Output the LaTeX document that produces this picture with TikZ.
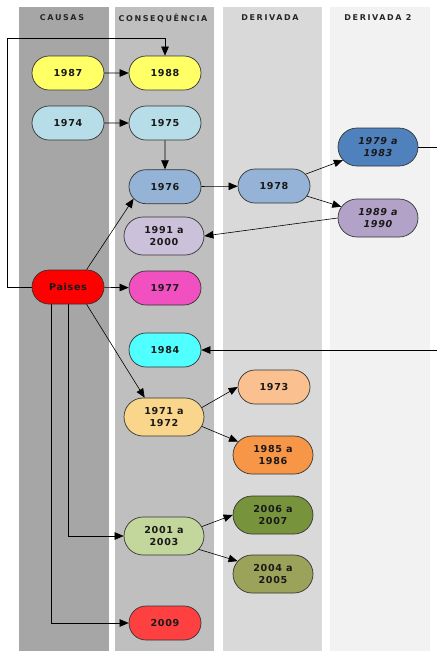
\documentclass[tikz,border=0pt]{standalone}
\usepackage{fontspec}
\setmainfont{DejaVu Sans}
\newfontfamily\cabfont[LetterSpace=20]{DejaVu Sans}
\newfontfamily\anofont[LetterSpace=7]{DejaVu Sans}
\usetikzlibrary{positioning, arrows.meta, shapes.misc}

\definecolor{causas}{HTML}{A6A6A6}
\definecolor{consequencia}{HTML}{BFBFBF}
\definecolor{derivada}{HTML}{D9D9D9}
\definecolor{derivadadois}{HTML}{F2F2F2}
\definecolor{amarelo}{HTML}{FFFF66}
\definecolor{azulclaro}{HTML}{B7DEE8}
\definecolor{azulmedio}{HTML}{95B3D7}
\definecolor{azulforte}{HTML}{4F81BD}
\definecolor{lilas}{HTML}{B3A2C7}
\definecolor{lilasclaro}{HTML}{CCC1DA}
\definecolor{vermelho}{HTML}{FF0000}
\definecolor{rosa}{HTML}{F050C0}
\definecolor{ciano}{HTML}{50FFFF}
\definecolor{laranjaclaro}{HTML}{FAD68C}
\definecolor{pessego}{HTML}{FAC090}
\definecolor{laranja}{HTML}{F79646}
\definecolor{verdeescuro}{HTML}{77933C}
\definecolor{verdeclaro}{HTML}{C3D69B}
\definecolor{oliva}{HTML}{9BA35A}
\definecolor{vermelhoclaro}{HTML}{FF4040}

\newcommand\fonteano{\anofont\bfseries\fontsize{9.6}{12}\selectfont}

\begin{document}
\begin{tikzpicture}[
  x=1pt, y=-1pt,
  coluna/.style={fill=#1},
  cabec/.style={font=\cabfont\bfseries\fontsize{8}{9}\selectfont, text=black!85},
  ano/.style={rounded rectangle, draw=black!80, line width=0.7pt, fill=#1,
              minimum width=76pt, minimum height=34pt, inner sep=2pt,
              align=center, text=black!90, font=\fonteano},
  periodo/.style={ano=#1, minimum width=84pt, minimum height=38pt},
  italico/.style={font=\fonteano\itshape},
  arr/.style={-{Triangle[length=9pt,width=7.5pt]}, line width=0.6pt, color=black},
  lig/.style={line width=0.6pt, color=black},
]
\useasboundingbox (0,0) rectangle (437,651);

% --- Colunas ---
\fill[coluna=causas] (19,7) rectangle (109,651);
\fill[coluna=consequencia] (115,7) rectangle (214,651);
\fill[coluna=derivada] (223,7) rectangle (322,651);
\fill[coluna=derivadadois] (330,7) rectangle (430,651);

\node[cabec] (hcausas) at (62,18) {CAUSAS};
\node[cabec] (hconseq) at (163,18) {CONSEQUÊNCIA};
\node[cabec] (hderiv) at (270,18) {DERIVADA};
\node[cabec] (hderiv2) at (378,18) {DERIVADA 2};

% --- Causas ---
\node[ano=amarelo] (n1987) at (68,73) {1987};
\node[ano=azulclaro] (n1974) at (68,123) {1974};
\node[ano=vermelho] (paises) at (68,287) {Paises};

% --- Consequencia ---
\node[ano=amarelo] (n1988) at (165,73) {1988};
\node[ano=azulclaro] (n1975) at (165,123) {1975};
\node[ano=azulmedio, below=29pt of n1975] (n1976) {1976};
\node[periodo=lilasclaro] (n9100) at (164,236) {1991 a\\2000};
\node[ano=rosa] (n1977) at (165,288) {1977};
\node[ano=ciano] (n1984) at (165,350) {1984};
\node[periodo=laranjaclaro] (n7172) at (164,417) {1971 a\\1972};
\node[periodo=verdeclaro] (n0103) at (164,536) {2001 a\\2003};
\node[ano=vermelhoclaro] (n2009) at (165,623) {2009};

% --- Derivada ---
\node[ano=azulmedio] (n1978) at (274,186) {1978};
\node[ano=pessego] (n1973) at (274,387) {1973};
\node[periodo=laranja] (n8586) at (273,455) {1985 a\\1986};
\node[periodo=verdeescuro] (n0607) at (273,515) {2006 a\\2007};
\node[periodo=oliva] (n0405) at (273,574) {2004 a\\2005};

% --- Derivada 2 ---
\node[periodo=azulforte, italico] (n7983) at (378,147) {1979 a\\1983};
\node[periodo=lilas, italico] (n8990) at (378,218) {1989 a\\1990};

% --- Ligacoes ---
\coordinate (volta) at (7,38);
\coordinate (saida) at (437,147);
\coordinate (entrada) at (437,350);

\draw[arr] (n1987) -- (n1988);
\draw[arr] (n1974) -- (n1975);
\draw[arr] (n1975) -- (n1976);
\draw[arr] (n1976) -- (n1978);
\draw[arr] (n1978) -- (n7983);
\draw[arr] (n1978) -- (n8990);
\draw[arr] (n8990.west) -- (n9100.east);
\draw[lig] (n7983.east) -- (saida);
\draw[arr] (entrada) -- (n1984.east);

\draw[arr] (paises.west) -| (volta) -| (n1988.north);
\draw[arr] (paises.43) -- (n1976.201);
\draw[arr] (paises) -- (n1977);
\draw[arr] (paises.-43) -- (n7172.135);
\draw[arr] (paises.south) |- (n0103.west);
\draw[arr] ([xshift=-17pt]paises.south) |- (n2009.west);

\draw[arr] (n7172.14) -- (n1973.west);
\draw[arr] (n7172.-14) -- (n8586.159);
\draw[arr] (n0103.14) -- (n0607.west);
\draw[arr] (n0103.-21) -- (n0405.160);

\end{tikzpicture}
\end{document}
